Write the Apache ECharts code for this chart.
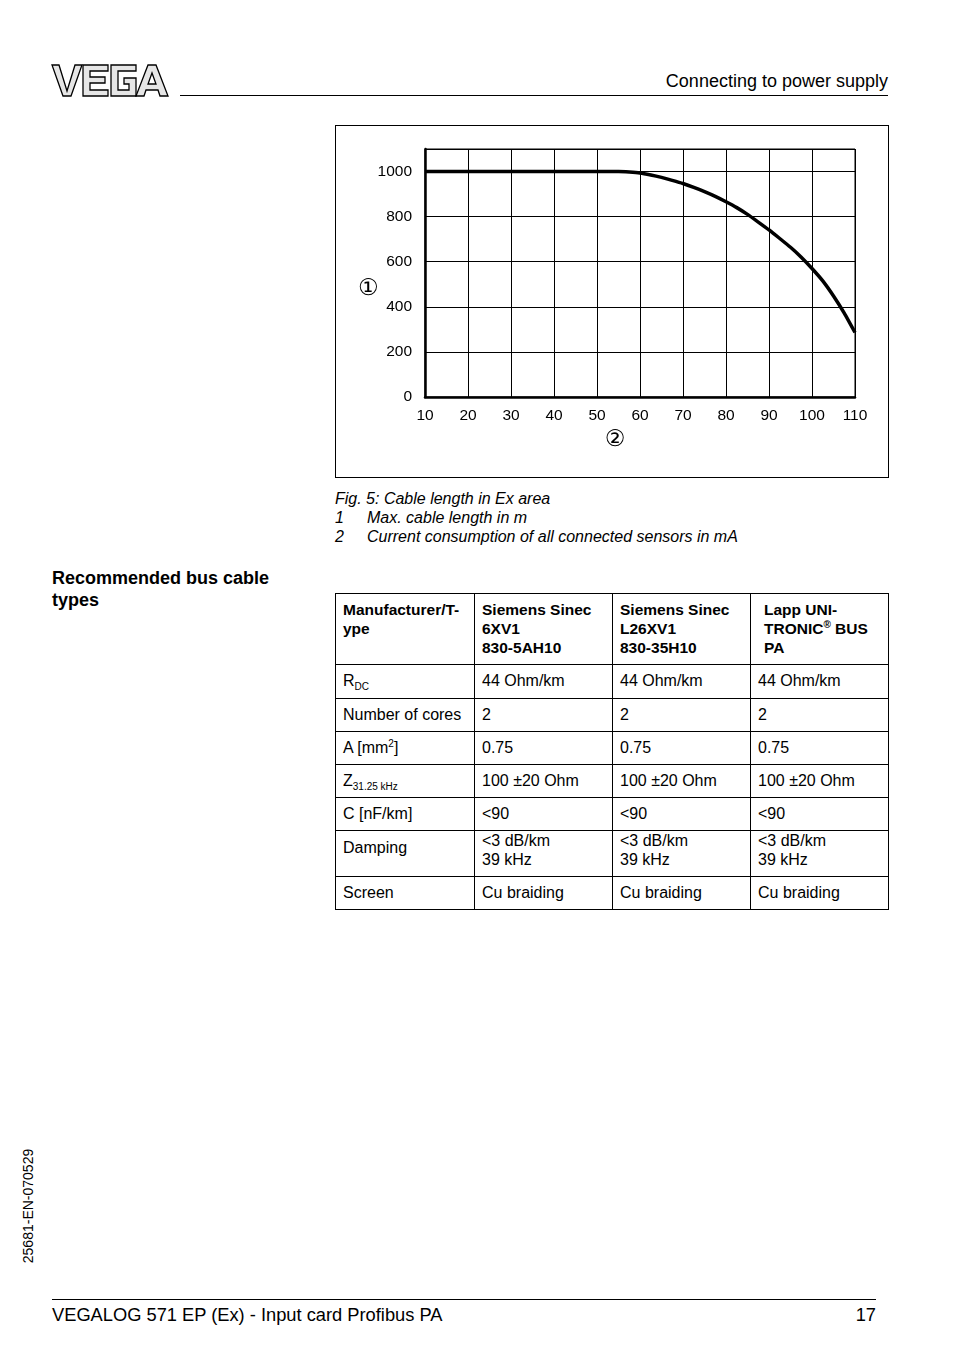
<!DOCTYPE html>
<html><head><meta charset="utf-8">
<script src="https://cdn.jsdelivr.net/npm/echarts@6/dist/echarts.min.js"></script>
<style>
html,body{margin:0;padding:0;background:#fff;}
body{width:954px;height:1352px;position:relative;font-family:"Liberation Sans",Arial,Helvetica,sans-serif;color:#000;overflow:hidden;}
.abs{position:absolute;}
#chartbox{left:335px;top:125px;width:552px;height:351px;border:1px solid #000;}
#chart{position:absolute;left:0;top:0;width:552px;height:351px;}
.cap{font-style:italic;font-size:16px;line-height:19px;white-space:nowrap;}
table{border-collapse:collapse;font-size:16px;}
td{border:1px solid #000;vertical-align:top;padding:5px 4px 0 7px;line-height:19px;white-space:nowrap;}
</style></head><body>
<!-- logo -->
<svg class="abs" style="left:50px;top:63px" width="120" height="36" viewBox="0 0 120 36">
  <g fill="#e6e6e6" stroke="#000" stroke-width="1.3" stroke-linejoin="miter">
    <path d="M2,2 L9,2 L17,28 L25,2 L32,2 L21,33 L13,33 Z"/>
    <path d="M33,2 L58,2 L58,8 L40,8 L40,14 L55,14 L55,20 L40,20 L40,27 L58,27 L58,33 L33,33 Z"/>
    <path d="M61,2 L86,2 L86,8 L68,8 L68,27 L79,27 L79,21 L74,21 L74,15 L86,15 L86,33 L61,33 Z"/>
    <path d="M98,2 L106,2 L118,33 L110,33 L108,27 L96,27 L94,33 L86,33 Z M98,21 L106,21 L102,10 Z"/>
  </g>
</svg>
<div class="abs" style="left:180px;top:95px;width:708px;height:1px;background:#000"></div>
<div class="abs" style="right:66px;top:71px;font-size:18px;white-space:nowrap;">Connecting to power supply</div>

<div id="chartbox" class="abs"><div id="chart"></div></div>

<div class="abs cap" style="left:335px;top:489px;">Fig. 5: Cable length in Ex area</div>
<div class="abs cap" style="left:335px;top:508px;">1</div>
<div class="abs cap" style="left:367px;top:508px;">Max. cable length in m</div>
<div class="abs cap" style="left:335px;top:527px;">2</div>
<div class="abs cap" style="left:367px;top:527px;">Current consumption of all connected sensors in mA</div>

<div class="abs" style="left:52px;top:567px;font-size:18px;font-weight:bold;line-height:22px;">Recommended bus cable<br>types</div>

<table class="abs" style="left:335px;top:593px;width:554px;">
<colgroup><col style="width:139px"><col style="width:138px"><col style="width:138px"><col style="width:138px"></colgroup>
<tr style="height:71px;font-weight:bold;font-size:15.5px;"><td style="padding-top:6px">Manufacturer/T-<br>ype</td><td style="padding-top:6px">Siemens Sinec<br>6XV1<br>830-5AH10</td><td style="padding-top:6px">Siemens Sinec<br>L26XV1<br>830-35H10</td><td style="padding-left:13px;padding-top:6px">Lapp UNI-<br>TRONIC<sup style="font-size:10px;line-height:0">®</sup> BUS<br>PA</td></tr>
<tr style="height:34px"><td style="padding-top:6px">R<sub style="font-size:10px;line-height:0">DC</sub></td><td style="padding-top:6px">44 Ohm/km</td><td style="padding-top:6px">44 Ohm/km</td><td style="padding-top:6px">44 Ohm/km</td></tr>
<tr style="height:33px"><td style="padding-top:6px">Number of cores</td><td style="padding-top:6px">2</td><td style="padding-top:6px">2</td><td style="padding-top:6px">2</td></tr>
<tr style="height:33px"><td style="padding-top:6px">A [mm<sup style="font-size:10px;line-height:0">2</sup>]</td><td style="padding-top:6px">0.75</td><td style="padding-top:6px">0.75</td><td style="padding-top:6px">0.75</td></tr>
<tr style="height:33px"><td style="padding-top:6px">Z<sub style="font-size:10px;line-height:0">31.25 kHz</sub></td><td style="padding-top:6px">100 ±20 Ohm</td><td style="padding-top:6px">100 ±20 Ohm</td><td style="padding-top:6px">100 ±20 Ohm</td></tr>
<tr style="height:33px"><td style="padding-top:6px">C [nF/km]</td><td style="padding-top:6px">&lt;90</td><td style="padding-top:6px">&lt;90</td><td style="padding-top:6px">&lt;90</td></tr>
<tr style="height:46px"><td style="padding-top:7px">Damping</td><td style="padding-top:0px">&lt;3 dB/km<br>39 kHz</td><td style="padding-top:0px">&lt;3 dB/km<br>39 kHz</td><td style="padding-top:0px">&lt;3 dB/km<br>39 kHz</td></tr>
<tr style="height:33px"><td style="padding-top:6px">Screen</td><td style="padding-top:6px">Cu braiding</td><td style="padding-top:6px">Cu braiding</td><td style="padding-top:6px">Cu braiding</td></tr>
</table>

<div class="abs" style="left:28px;top:1206px;font-size:14px;white-space:nowrap;transform:translate(-50%,-50%) rotate(-90deg);">25681-EN-070529</div>

<div class="abs" style="left:52px;top:1299px;width:824px;height:1px;background:#000"></div>
<div class="abs" style="left:52px;top:1304px;font-size:18.3px;white-space:nowrap;">VEGALOG 571 EP (Ex) - Input card Profibus PA</div>
<div class="abs" style="right:78px;top:1304px;font-size:18.3px;">17</div>

<script>
var xTicks = [10,20,30,40,50,60,70,80,90,100,110];
var currentMA = [10,20,30,40,50,55,57.5,60,62.5,65,67.5,70,72.5,75,77.5,80,82.5,85,87.5,90,92.5,95,97.5,100,102.5,105,107.5,110];
var cableLen  = [1000,1000,1000,1000,1000,1000,998,994,985,974,961,947,930,911,890,866,840,810,776,741,703,664,620,570,515,448,372,286];
var yAxisName = '\u2460';
var xAxisName = '\u2461';

var chart = echarts.init(document.getElementById('chart'));
var txt = {color:'#000', fontFamily:'"Liberation Sans",Arial,sans-serif', fontSize:15.5};
var nameFont = '"DejaVu Sans","Noto Sans CJK JP",sans-serif';
chart.setOption({
  animation:false,
  backgroundColor:'#fff',
  grid:{left:89, right:33, top:23, bottom:80, show:true, borderColor:'#000', borderWidth:1},
  graphic:[{
    type:'text', left:22, top:152,
    style:{text:yAxisName, fill:'#000', fontSize:23, fontFamily:nameFont}
  }],
  xAxis:{
    type:'value', min:xTicks[0], max:xTicks[xTicks.length-1], interval:10,
    name:xAxisName, nameLocation:'middle', nameGap:30,
    nameTextStyle:{padding:[0,50,0,0], color:'#000', fontSize:23, fontFamily:nameFont},
    axisLine:{show:true, lineStyle:{color:'#000', width:2.5}},
    axisTick:{show:false},
    axisLabel:Object.assign({margin:11}, txt),
    splitLine:{show:true, lineStyle:{color:'#000', width:1}}
  },
  yAxis:{
    type:'value', min:0, max:1100, interval:200,
    axisLine:{show:true, lineStyle:{color:'#000', width:2.5}},
    axisTick:{show:false},
    axisLabel:Object.assign({margin:13, showMaxLabel:false, formatter:function(v){return v>1000?'':String(v);}}, txt),
    splitLine:{show:true, lineStyle:{color:'#000', width:1}}
  },
  series:[{
    type:'line', data:currentMA.map(function(x,i){return [x, cableLen[i]];}),
    smooth:0.15, showSymbol:false, symbol:'none',
    lineStyle:{color:'#000', width:3.5}
  }]
});
</script>
</body></html>
